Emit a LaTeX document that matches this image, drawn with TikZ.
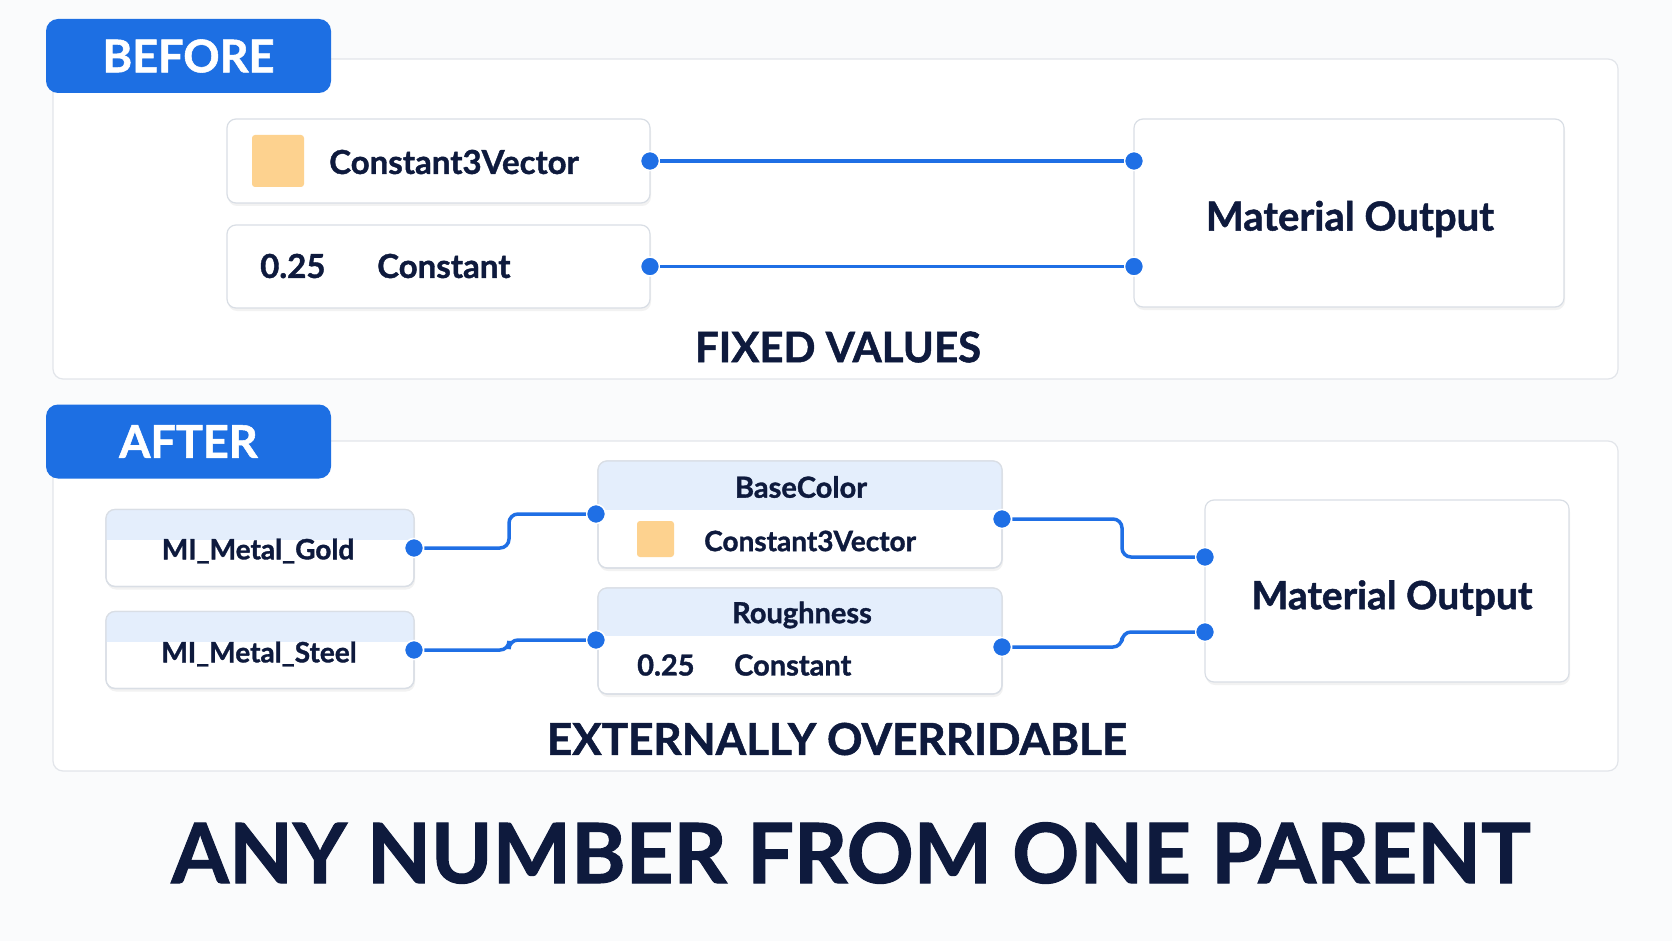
\documentclass[tikz,border=0pt]{standalone}
\usepackage{fontspec}
\setmainfont{Lato}[BoldFeatures={FakeBold=1.2}]
\usetikzlibrary{shadows}

\definecolor{navy}{HTML}{0E1A3D}
\definecolor{wireblue}{HTML}{1F6FE5}
\definecolor{tabblue}{HTML}{1D6FE3}
\definecolor{hdrblue}{HTML}{E4EEFC}
\definecolor{swatch}{HTML}{FDD28F}
\definecolor{panelline}{HTML}{E2E5EA}
\definecolor{boxline}{HTML}{D9DEE5}
\definecolor{bg}{HTML}{FAFBFC}

\newcommand{\fs}[1]{\fontsize{#1}{#1}\selectfont\bfseries}

\tikzset{
	panel/.style={draw=panelline, fill=white, rounded corners=10pt, line width=1.2pt, minimum width=1565pt},
	tab/.style={fill=tabblue, rounded corners=12pt, text=white, font=\fs{45}, minimum width=285pt, minimum height=74pt},
	card/.style={draw=boxline, fill=white, rounded corners=9pt, line width=1.2pt, outer sep=0pt, text=navy,
		drop shadow={opacity=0.10, shadow xshift=1pt, shadow yshift=-3pt}},
	port/.style={circle, fill=wireblue, draw=white, line width=1.5pt, inner sep=0pt, minimum size=19pt},
	wire/.style={draw=wireblue, line width=3.5pt, rounded corners=9pt},
	txt/.style={inner sep=0pt, text=navy},
	chip/.style={fill=swatch, rounded corners=3pt, inner sep=0pt}
}

\begin{document}
\begin{tikzpicture}[x=1pt, y=-1pt]
	\fill[bg] (0,0) rectangle (1672,941);
	\useasboundingbox (0,0) rectangle (1672,941);

	% BEFORE
	\node (top) at (835.5,219) [panel, minimum height=320pt] {};
	\node (before) at (188.5,56) [tab] {BEFORE};
	\node (cv) at (438.5,161) [card, minimum width=423pt, minimum height=84pt] {};
		\node (cvchip) at (278,161) [chip, minimum size=52pt] {};
		\node at (329,162) [txt, anchor=west, font=\fs{33}] {Constant3Vector};
	\node (cst) at (438.5,266.5) [card, minimum width=423pt, minimum height=83pt] {};
		\node at (260,266) [txt, anchor=west, font=\fs{33}] {0.25};
		\node at (377,266) [txt, anchor=west, font=\fs{33}] {Constant};
	\node (mo) at (1349,213) [card, minimum width=430pt, minimum height=188pt] {};
		\node at (1350,219) [txt, font=\fs{40}] {Material Output};
	\node (cv-out) at (cv.east) [port] {};
	\node (cst-out) at (cst.east) [port] {};
	\node (mo-in1) at (mo.west |- cv.east) [port] {};
	\node (mo-in2) at (mo.west |- cst.east) [port] {};
	\draw[wire] (cv-out) -- (mo-in1);
	\draw[wire] (cst-out) -- (mo-in2);
	\node at (838,347) [txt, font=\fs{42}] {FIXED VALUES};

	% AFTER
	\node (bottom) at (835.5,606) [panel, minimum height=330pt] {};
	\node (after) at (188.5,441.5) [tab] {AFTER};
	\node (gold) at (260,548) [card, minimum width=308pt, minimum height=77pt] {};
	\node (steel) at (260,650) [card, minimum width=308pt, minimum height=77pt] {};
	\node (bc) at (800,514.5) [card, minimum width=404pt, minimum height=107pt] {};
	\node (rough) at (800,641) [card, minimum width=404pt, minimum height=106pt] {};
	\foreach \n/\h in {gold/30, steel/30, bc/49, rough/48}{
		\begin{scope}
			\clip[rounded corners=9pt] (\n.north west) rectangle (\n.south east);
			\fill[hdrblue] (\n.north west) rectangle ([yshift=-\h pt]\n.north east);
		\end{scope}
		\draw[boxline, line width=1.2pt, rounded corners=9pt] (\n.north west) rectangle (\n.south east);
	}
	\node at (258,551) [txt, font=\fs{28}] {MI\_Metal\_Gold};
	\node at (259,654) [txt, font=\fs{28}] {MI\_Metal\_Steel};
	\node at (801,487) [txt, font=\fs{29}] {BaseColor};
		\node (bcchip) at (655.5,539) [chip, minimum width=37pt, minimum height=36pt] {};
		\node at (704,541) [txt, anchor=west, font=\fs{28}] {Constant3Vector};
	\node at (802,615) [txt, font=\fs{29}] {Roughness};
		\node at (637,665) [txt, anchor=west, font=\fs{29}] {0.25};
		\node at (734,665) [txt, anchor=west, font=\fs{29}] {Constant};
	\node (mo2) at (1387,591) [card, minimum width=364pt, minimum height=182pt] {};
		\node at (1392,598) [txt, font=\fs{39}] {Material Output};

	\node (gold-out) at (gold.east) [port] {};
	\node (steel-out) at (steel.east) [port] {};
	\node (bc-in) at (596,514) [port] {};
	\node (bc-out) at (1002,519) [port] {};
	\node (rough-in) at (596,640) [port] {};
	\node (rough-out) at (1002,647) [port] {};
	\node (mo2-in1) at (1205,557) [port] {};
	\node (mo2-in2) at (1205,632) [port] {};
	\draw[wire] (gold-out) -- ++(95,0) |- (bc-in);
	\draw[wire] (steel-out) -- ++(95,0) |- (rough-in);
	\draw[wire] (bc-out) -- ++(120,0) |- (mo2-in1);
	\draw[wire] (rough-out) -- ++(120,0) |- (mo2-in2);
	\node at (837,739) [txt, font=\fs{44}] {EXTERNALLY OVERRIDABLE};

	\node at (851,853) [txt, font=\fs{83}] {ANY NUMBER FROM ONE PARENT};
\end{tikzpicture}
\end{document}
